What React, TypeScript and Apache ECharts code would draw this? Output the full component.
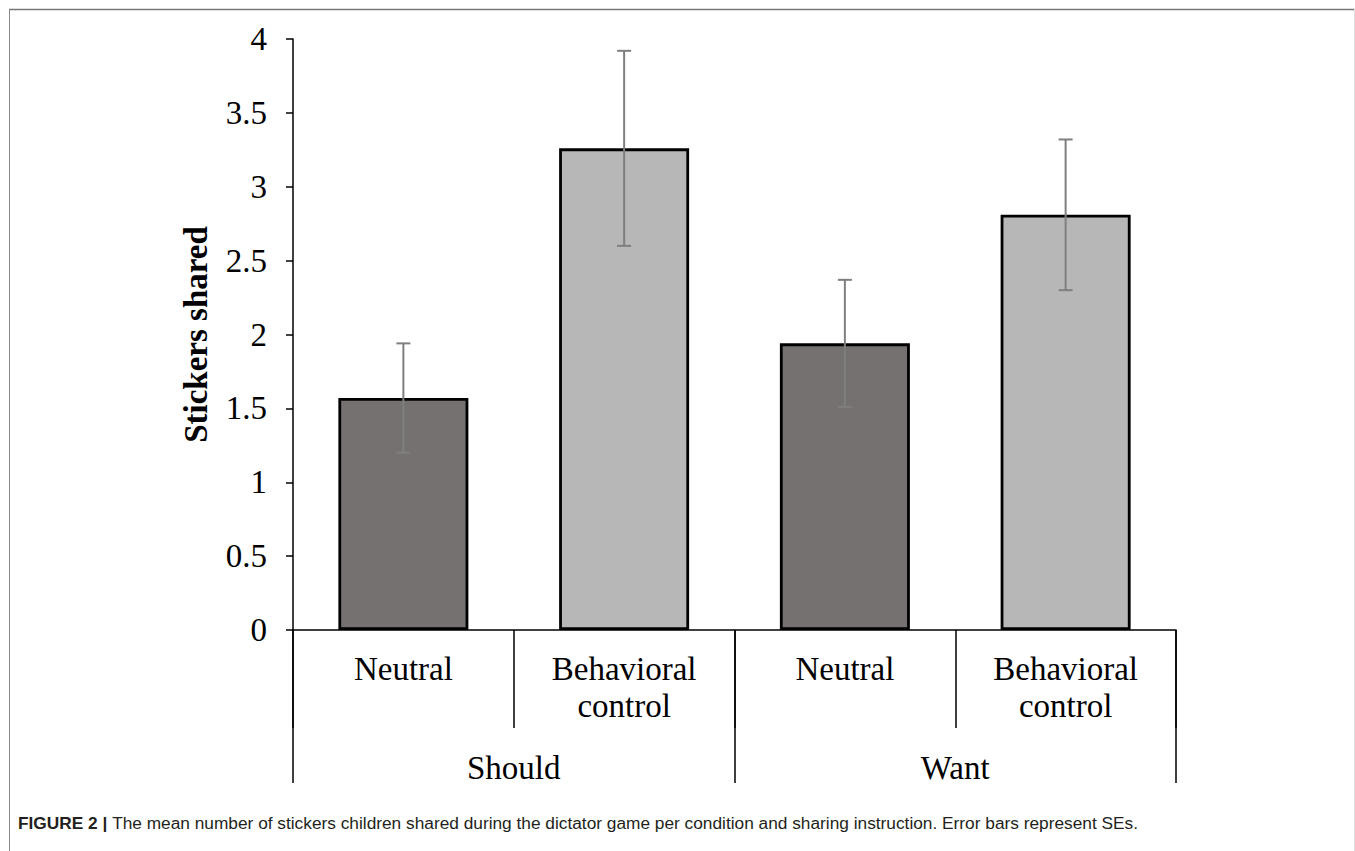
import React, { useEffect, useRef } from "react";
import * as echarts from "echarts";

const conditions = ["Neutral", "Behavioral\ncontrol", "Neutral", "Behavioral\ncontrol"];
const instructions = ["Should", "Want"];
const means = [1.57, 3.26, 1.94, 2.81];
const errors = [0.37, 0.66, 0.43, 0.51];
const barColors = ["#767171", "#b7b7b7", "#767171", "#b7b7b7"];
const yTitle = "Stickers shared";
const captionBold = "FIGURE 2 | ";
const captionText =
  "The mean number of stickers children shared during the dictator game per condition and sharing instruction. Error bars represent SEs.";

const SERIF = "'Liberation Serif', 'Times New Roman', serif";
const SANS = "'Liberation Sans', Arial, sans-serif";

export default function App() {
  const ref = useRef<HTMLDivElement>(null);
  useEffect(() => {
    if (!ref.current) return;
    const chart = echarts.init(ref.current, undefined, { renderer: "svg" });
    const option: any = {
      animation: false,
      backgroundColor: "#ffffff",
      grid: { left: 293, right: 179, top: 39, bottom: 221, containLabel: false },
      xAxis: [
        {
          type: "category",
          data: conditions,
          position: "bottom",
          axisLine: { show: true, onZero: false, lineStyle: { color: "#000", width: 1.5 } },
          axisTick: { show: true, length: 98, alignWithLabel: false, lineStyle: { color: "#000", width: 1.5 } },
          axisLabel: {
            color: "#000",
            fontFamily: SERIF,
            fontSize: 33,
            lineHeight: 37,
            margin: 20,
            interval: 0,
          },
        },
        {
          type: "category",
          data: instructions,
          position: "bottom",
          axisLine: { show: false },
          axisTick: { show: true, length: 153, lineStyle: { color: "#000", width: 1.5 } },
          axisLabel: {
            color: "#000",
            fontFamily: SERIF,
            fontSize: 33,
            lineHeight: 37,
            margin: 119,
            interval: 0,
          },
        },
      ],
      yAxis: {
        type: "value",
        min: 0,
        max: 4,
        interval: 0.5,
        name: yTitle,
        nameLocation: "middle",
        nameGap: 81,
        nameTextStyle: { color: "#000", fontFamily: SERIF, fontSize: 33, fontWeight: "bold" },
        axisLine: { show: true, lineStyle: { color: "#000", width: 1.5 } },
        axisTick: { show: true, length: 7, lineStyle: { color: "#000", width: 1.5 } },
        axisLabel: { color: "#000", fontFamily: SERIF, fontSize: 33, margin: 26 },
        splitLine: { show: false },
      },
      series: [
        {
          type: "bar",
          xAxisIndex: 0,
          barWidth: 130,
          data: means.map((v, i) => ({
            value: v,
            itemStyle: { color: barColors[i], borderColor: "#000", borderWidth: 2.8 },
          })),
          z: 2,
        },
        {
          type: "custom",
          xAxisIndex: 0,
          z: 3,
          data: means.map((m, i) => [i, m, errors[i]]),
          renderItem: (params: any, api: any) => {
            const i = api.value(0);
            const m = api.value(1);
            const e = api.value(2);
            const top = api.coord([i, m + e]);
            const bot = api.coord([i, m - e]);
            const x = top[0];
            const hw = 7;
            const style = { stroke: "#7f7f7f", lineWidth: 2 };
            return {
              type: "group",
              children: [
                { type: "line", shape: { x1: x, y1: top[1], x2: x, y2: bot[1] }, style },
                { type: "line", shape: { x1: x - hw, y1: top[1], x2: x + hw, y2: top[1] }, style },
                { type: "line", shape: { x1: x - hw, y1: bot[1], x2: x + hw, y2: bot[1] }, style },
              ],
            };
          },
        },
      ],
      graphic: [
        { type: "line", shape: { x1: 9, y1: 9.5, x2: 1355, y2: 9.5 }, style: { stroke: "#777", lineWidth: 1.5 } },
        { type: "line", shape: { x1: 9.5, y1: 9, x2: 9.5, y2: 851 }, style: { stroke: "#888", lineWidth: 1 } },
        { type: "line", shape: { x1: 1354.5, y1: 9, x2: 1354.5, y2: 851 }, style: { stroke: "#e0e0e0", lineWidth: 1 } },
        {
          type: "text",
          left: 18,
          top: 814,
          style: {
            text: "{b|" + captionBold + "}{n|" + captionText + "}",
            rich: {
              b: { fontFamily: SANS, fontSize: 17.3, fontWeight: "bold", fill: "#231f20" },
              n: { fontFamily: SANS, fontSize: 17.3, fill: "#231f20" },
            },
          },
        },
      ],
    };
    chart.setOption(option);
    return () => chart.dispose();
  }, []);
  return (
    <div
      ref={ref}
      style={{ position: "absolute", left: 0, top: 0, width: 1355, height: 851 }}
    />
  );
}
